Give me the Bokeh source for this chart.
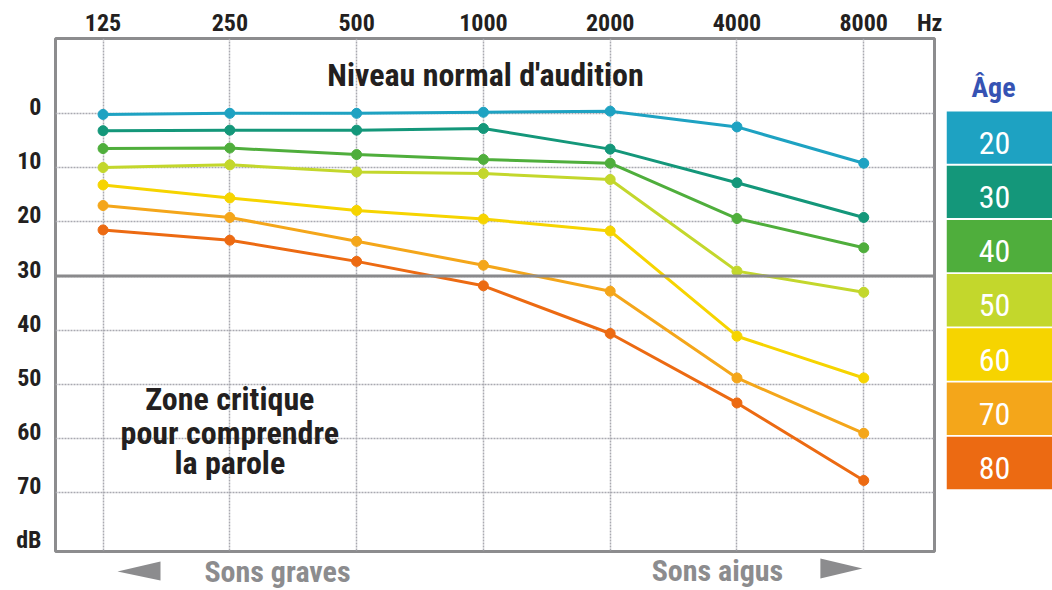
from bokeh.plotting import figure
from bokeh.models import Range1d, FixedTicker, Span, ColumnDataSource
from bokeh.layouts import row, column
from bokeh.embed import file_html
from bokeh.resources import INLINE
from bokeh.core.properties import value

# ---------------- data ----------------
freqs = ["125", "250", "500", "1000", "2000", "4000", "8000"]
ages = ["20", "30", "40", "50", "60", "70", "80"]
loss_20 = [0.2, 0.0, 0.0, -0.2, -0.4, 2.5, 9.2]
loss_30 = [3.2, 3.1, 3.1, 2.8, 6.6, 12.8, 19.2]
loss_40 = [6.5, 6.4, 7.6, 8.5, 9.2, 19.4, 24.8]
loss_50 = [10.0, 9.5, 10.8, 11.1, 12.2, 29.1, 33.0]
loss_60 = [13.2, 15.6, 17.9, 19.5, 21.7, 41.1, 48.8]
loss_70 = [17.0, 19.2, 23.6, 28.0, 32.8, 48.8, 59.0]
loss_80 = [21.5, 23.4, 27.3, 31.8, 40.6, 53.4, 67.7]
db_ticks = [0, 10, 20, 30, 40, 50, 60, 70]
critical_db = 30

series = [loss_20, loss_30, loss_40, loss_50, loss_60, loss_70, loss_80]
colors = ["#1ea2c2", "#14977a", "#4fae3c", "#c3d72c", "#f6d400", "#f4a61a", "#ec6a12"]

FONT = "Roboto Condensed"
DARK = "#231f20"
GRAY = "#8c8c8e"

x_idx = list(range(len(freqs)))
y_range = Range1d(80.8, -13.8)
x_range = Range1d(-0.375, 6.558)

p = figure(width=946, height=553, x_range=x_range, y_range=y_range,
           x_axis_location="above", y_axis_location="left",
           output_backend="svg", toolbar_location=None,
           min_border_left=55, min_border_right=12, min_border_top=38, min_border_bottom=2)
p.background_fill_color = "white"
p.border_fill_color = "white"
p.outline_line_color = GRAY
p.outline_line_width = 3

# dB labels sit slightly above their grid lines: shifted label range
p.extra_y_ranges = {"lab": Range1d(80.8 + 1.2, -13.8 + 1.2)}
p.yaxis.y_range_name = "lab"

x_labels = {i: f for i, f in zip(x_idx, freqs)}
x_labels[6.52] = "Hz"
p.xaxis.ticker = FixedTicker(ticks=x_idx + [6.52])
p.xaxis.major_label_overrides = x_labels
y_labels = {t: str(t) for t in db_ticks}
y_labels[80.1] = "dB"
p.yaxis.ticker = FixedTicker(ticks=db_ticks + [80.1])
p.yaxis.major_label_overrides = y_labels
for ax in (p.xaxis, p.yaxis):
    ax.axis_line_color = None
    ax.major_tick_line_color = None
    ax.minor_tick_line_color = None
    ax.major_label_text_font = FONT
    ax.major_label_text_font_style = "bold"
    ax.major_label_text_font_size = "24px"
    ax.major_label_text_color = DARK
p.xaxis.major_label_standoff = -4
p.yaxis.major_label_standoff = 8

p.xgrid.ticker = FixedTicker(ticks=x_idx)
p.ygrid.ticker = FixedTicker(ticks=db_ticks)
for g in (p.xgrid, p.ygrid):
    g.grid_line_color = "#a9a9b0"
    g.grid_line_width = 1.5
    g.grid_line_dash = "2 1"

p.add_layout(Span(location=critical_db, dimension="width", line_color="#8a8a8c", line_width=3))

for vals, col in zip(series, colors):
    src = ColumnDataSource(dict(x=x_idx, y=vals))
    p.line("x", "y", source=src, line_color=col, line_width=3)
    p.scatter("x", "y", source=src, size=10, fill_color=col, line_color=col)

p.text(x=[3.017], y=[-7.0], text=["Niveau normal d'audition"], text_font=value(FONT),
       text_font_style="bold", text_font_size="32px", text_color=DARK,
       text_align="center", text_baseline="middle")
zone_lines = ["Zone critique", "pour comprendre", "la parole"]
p.text(x=[1.0, 1.0, 1.0], y=[52.6, 58.9, 64.5], text=zone_lines, text_font=value(FONT),
       text_font_style="bold", text_font_size="32px", text_color=DARK,
       text_align="center", text_baseline="middle")

# ---------------- bottom strip ----------------
st = figure(width=946, height=37, x_range=x_range, y_range=Range1d(37, 0),
            output_backend="svg", toolbar_location=None,
            min_border_left=55, min_border_right=12, min_border_top=0, min_border_bottom=0)
st.axis.visible = False
st.grid.visible = False
st.outline_line_color = None
st.background_fill_color = "white"
st.border_fill_color = "white"
st.text(x=[1.376, 4.846], y=[18, 17], text=["Sons graves", "Sons aigus"], text_font=value(FONT),
        text_font_style="bold", text_font_size="30px", text_color=GRAY,
        text_align="center", text_baseline="middle")
st.patches(xs=[[0.114, 0.453, 0.453], [5.658, 5.658, 5.990]],
           ys=[[18, 8, 27], [5, 25, 15]], fill_color=GRAY, line_color=None)

# ---------------- age legend ----------------
lg = figure(width=106, height=553, x_range=Range1d(0, 106), y_range=y_range,
            output_backend="svg", toolbar_location=None,
            min_border_left=0, min_border_right=0, min_border_top=38, min_border_bottom=2)
lg.axis.visible = False
lg.grid.visible = False
lg.outline_line_color = None
lg.background_fill_color = "white"
lg.border_fill_color = "white"

n = len(ages)
tops = [10 * i - 0.35 for i in range(n)]
bottoms = [10 * i + 9.3 for i in range(n)]
mids = [10 * i + 5.4 for i in range(n)]
lg.quad(left=[0] * n, right=[106] * n, top=tops, bottom=bottoms, fill_color=colors, line_color=None)
lg.text(x=[48] * n, y=mids, text=ages, text_font=value(FONT), text_font_size="32px",
        text_color="white", text_align="center", text_baseline="middle")
lg.text(x=[47], y=[-4.7], text=["Âge"], text_font=value(FONT), text_font_style="bold",
        text_font_size="28px", text_color="#3653b3", text_align="center", text_baseline="middle")

layout = column(row(p, lg), st)
open("out.html", "w").write(file_html(layout, INLINE))
